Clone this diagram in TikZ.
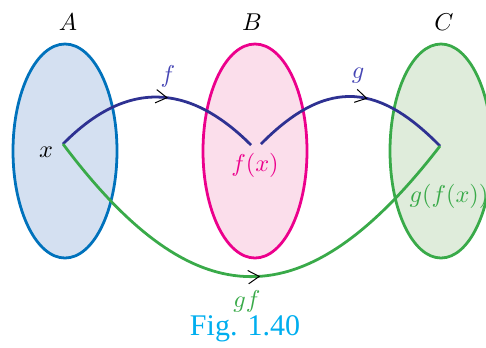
\documentclass[tikz,border=0pt]{standalone}
\usepackage{fontspec}
\newfontfamily\figfont{Liberation Serif}
\definecolor{bleuA}{RGB}{0,114,188}
\definecolor{fondA}{RGB}{212,224,241}
\definecolor{roseB}{RGB}{236,0,140}
\definecolor{fondB}{RGB}{251,222,235}
\definecolor{vertC}{RGB}{57,170,73}
\definecolor{fondC}{RGB}{223,236,219}
\definecolor{marine}{RGB}{46,49,146}
\definecolor{etiq}{RGB}{70,70,180}
\definecolor{cyanfig}{RGB}{0,174,239}
\usetikzlibrary{arrows.meta,decorations.markings}

\begin{document}
\begin{tikzpicture}[x=0.45pt, y=-0.45pt, font=\fontsize{11}{13}\selectfont,
	ensemble/.style={line width=1.25pt},
	courbe/.style={line width=1.25pt},
	fleche/.style={postaction={decorate}, decoration={markings,
		mark=at position #1 with {\arrow[black, line width=0.45pt]{Straight Barb[length=5pt,width=6pt]}}}}]
				\useasboundingbox (0,0) rectangle (486,347);
				
				% Ensembles A, B, C
				\draw[ensemble, bleuA, fill=fondA] (65,151) ellipse [x radius=52, y radius=107];
				\draw[ensemble, roseB, fill=fondB] (255,151) ellipse [x radius=52, y radius=107];
				\draw[ensemble, vertC, fill=fondC] (441,151) ellipse [x radius=51, y radius=107];
				\node (nomA) at (68,22) {$A$};
				\node (nomB) at (252,22) {$B$};
				\node (nomC) at (444,22) {$C$};
				
				% Points
				\coordinate (x) at (63,144);
				\coordinate (fx1) at (251,145);
				\coordinate (fx2) at (261,144);
				\coordinate (gfx) at (440,146);
				\node (labx) at (46,152) {$x$};
				\node[roseB] (labfx) at (255,165) {$f(x)$};
				\node[vertC, inner xsep=0pt] (labgfx) at (449,196) {$g(f(x))$};
				
				% Fleches f, g et gf
				\draw[courbe, marine, fleche=0.55] (x) .. controls (133,73) and (196,90) .. (fx1);
				\draw[courbe, marine, fleche=0.58] (fx2) .. controls (330,74) and (382,87) .. (gfx);
				\draw[courbe, vertC, fleche=0.52] (x) .. controls (195,320) and (305,321) .. (gfx);
				\node[etiq] (labf) at (168,76) {$f$};
				\node[etiq] (labg) at (358,76) {$g$};
				\node[vertC] (labgf) at (247,301) {$gf$};
				
				\node[cyanfig, font=\figfont\fontsize{13.5}{15}\selectfont] (fig) at (245,329) {Fig. 1.40};
			\end{tikzpicture}
\end{document}
